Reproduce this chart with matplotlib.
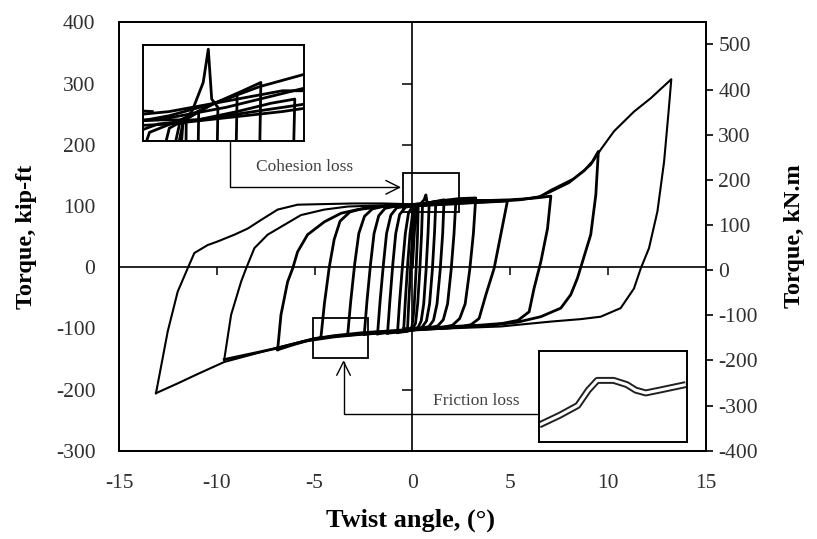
import numpy as np
import matplotlib.pyplot as plt
from matplotlib.patches import Rectangle

plt.rcParams['font.family'] = ['Liberation Serif', 'DejaVu Serif']
plt.rcParams['axes.unicode_minus'] = False

# twist angle (deg), torque (kip-ft) for each load cycle, in test order
cycle_01 = [(0.00, 0), (0.08, 45), (0.16, 85), (0.24, 100), (0.30, 101), (0.26, 50), (0.18, -10),
            (0.08, -70), (-0.02, -97), (-0.12, -102), (-0.25, -103)]
cycle_02 = [(-0.25, -103), (-0.18, -55), (-0.08, 5), (0.02, 60), (0.12, 92), (0.25, 101), (0.40, 102),
            (0.52, 103), (0.47, 55), (0.38, -5), (0.27, -60), (0.16, -92), (0.02, -101), (-0.20, -104),
            (-0.45, -105)]
cycle_03 = [(-0.45, -105), (-0.36, -55), (-0.24, 5), (-0.12, 55), (0.02, 90), (0.18, 100), (0.40, 103),
            (0.60, 110), (0.69, 118), (0.75, 106), (0.86, 104), (0.80, 55), (0.70, -5), (0.58, -60),
            (0.45, -88), (0.30, -98), (0.05, -102), (-0.30, -105), (-0.76, -107)]
cycle_04 = [(-0.76, -107), (-0.65, -55), (-0.50, 5), (-0.36, 55), (-0.20, 88), (0.00, 99), (0.40, 102),
            (0.80, 105), (1.20, 107), (1.13, 55), (1.02, -5), (0.88, -60), (0.72, -88), (0.50, -98),
            (0.20, -102), (-0.40, -105), (-1.27, -108)]
cycle_05 = [(-1.27, -108), (-1.15, -55), (-1.00, 5), (-0.85, 55), (-0.65, 86), (-0.35, 98), (0.20, 101),
            (0.80, 105), (1.30, 108), (1.62, 110), (1.55, 55), (1.42, -5), (1.26, -60), (1.08, -87),
            (0.85, -97), (0.50, -100), (-0.20, -103), (-1.00, -106), (-1.78, -109)]
cycle_06 = [(-1.78, -109), (-1.65, -55), (-1.48, 5), (-1.32, 55), (-1.10, 85), (-0.80, 97), (-0.20, 100),
            (0.50, 101), (1.20, 103), (1.80, 105), (2.22, 106), (2.13, 55), (1.98, -5), (1.80, -60),
            (1.58, -86), (1.30, -96), (0.90, -99), (0.30, -101), (-0.60, -104), (-1.50, -107),
            (-2.46, -110)]
cycle_07 = [(-2.46, -110), (-2.32, -55), (-2.14, 5), (-1.96, 55), (-1.72, 84), (-1.40, 96), (-0.80, 100),
            (0.00, 102), (0.80, 105), (1.60, 109), (2.40, 112), (3.24, 113), (3.12, 55), (2.93, -5),
            (2.70, -60), (2.42, -84), (2.05, -95), (1.60, -98), (1.00, -100), (0.20, -102),
            (-0.80, -105), (-2.00, -108), (-3.31, -111)]
cycle_08 = [(-3.31, -111), (-3.15, -55), (-2.95, 5), (-2.74, 55), (-2.45, 83), (-2.05, 95), (-1.40, 100),
            (-0.50, 101), (0.50, 101), (1.50, 103), (2.50, 105), (3.50, 106), (4.30, 107), (4.86, 108),
            (4.52, 53), (4.18, -2), (3.76, -45), (3.41, -84), (3.00, -94), (2.40, -98), (1.50, -100),
            (0.50, -101), (-0.60, -104), (-1.80, -106), (-3.00, -110), (-4.00, -113), (-4.68, -116)]
cycle_09 = [(-4.68, -116), (-4.50, -60), (-4.25, 0), (-4.00, 45), (-3.70, 75), (-3.20, 90), (-2.40, 97),
            (-1.40, 100), (-0.20, 101), (1.00, 104), (2.50, 109), (4.00, 109), (5.00, 110), (6.00, 112),
            (6.60, 114), (7.08, 116), (6.91, 63), (6.57, 9), (6.22, -35), (5.97, -73), (5.40, -87),
            (4.60, -92), (3.40, -95), (2.00, -97), (0.50, -100), (-1.00, -104), (-2.50, -107),
            (-4.00, -112), (-5.00, -117), (-6.00, -126), (-6.89, -135)]
cycle_10 = [(-6.89, -135), (-6.72, -78), (-6.38, -24), (-6.12, -2), (-5.87, 25), (-5.36, 53), (-4.50, 74),
            (-3.65, 88), (-2.80, 94), (-1.50, 99), (0.00, 100), (2.00, 103), (4.00, 107), (5.50, 110),
            (6.50, 115), (7.10, 124), (8.00, 138), (8.80, 158), (9.20, 172), (9.51, 189), (9.38, 118),
            (9.12, 53), (8.70, 9), (8.44, -18), (8.10, -45), (7.59, -67), (6.57, -81), (5.37, -90),
            (4.00, -95), (2.00, -99), (0.00, -103), (-2.00, -108), (-4.00, -114), (-5.50, -121),
            (-7.00, -133), (-8.30, -142), (-9.62, -151)]
cycle_11 = [(-9.62, -151), (-9.27, -78), (-8.76, -24), (-8.50, -2), (-8.08, 31), (-7.40, 53), (-6.55, 69),
            (-5.70, 85), (-4.50, 94), (-3.30, 99), (-1.50, 101), (0.00, 103), (2.00, 108), (4.00, 108),
            (5.50, 110), (6.50, 115), (7.08, 126), (8.27, 145), (9.12, 167), (9.63, 192), (10.31, 222),
            (11.33, 254), (12.19, 276), (13.24, 307), (13.10, 254), (12.87, 172), (12.53, 91),
            (12.10, 31), (11.68, -2), (11.33, -35), (10.65, -67), (9.63, -81), (8.61, -85), (7.08, -89),
            (4.52, -97), (1.97, -100), (0.00, -103), (-2.00, -107), (-4.00, -113), (-5.00, -116),
            (-7.06, -133), (-9.62, -155), (-11.00, -175), (-12.00, -190), (-13.11, -206)]
cycle_12 = [(-13.11, -206), (-12.51, -105), (-12.00, -40), (-11.49, -2), (-11.15, 23), (-10.47, 36),
            (-9.95, 42), (-9.10, 53), (-8.42, 63), (-7.74, 77), (-6.89, 94), (-5.87, 102), (-4.51, 103),
            (-3.00, 104), (-1.50, 104), (-0.30, 103)]

cycles = [cycle_01, cycle_02, cycle_03, cycle_04, cycle_05, cycle_06, cycle_07, cycle_08,
          cycle_09, cycle_10, cycle_11, cycle_12]

# detail of the lower branch in the friction-loss window
friction_theta = [-5.06, -4.67, -4.33, -4.13, -3.96, -3.65, -3.40, -3.23, -3.04, -2.78, -2.53, -2.28]
friction_torque = [-137, -130, -123, -112, -105, -105, -108, -112, -114, -112, -110, -108]

x_ticks = [-15, -10, -5, 0, 5, 10, 15]
y_ticks_kipft = [-300, -200, -100, 0, 100, 200, 300, 400]
y_ticks_knm = [-400, -300, -200, -100, 0, 100, 200, 300, 400, 500]
KIPFT_TO_KNM = 1.3558

cohesion_box = (-0.46, 90.5, 2.84, 62.8)
friction_box = (-5.06, -149.0, 2.81, 65.3)

fig = plt.figure(figsize=(8.17, 5.39), dpi=100)
ax = fig.add_axes([0.1457, 0.1638, 0.7181, 0.7948])

for i, cyc in enumerate(cycles):
    th, tq = np.array(cyc).T
    ax.plot(th, tq, color='black', lw=1.5 if i >= 10 else 2.0, solid_joinstyle='round')

ax.set_xlim(-15, 15)
ax.set_ylim(-300, 400)
ax.set_xticks(x_ticks)
ax.set_yticks(y_ticks_kipft)
ax.tick_params(axis='both', length=0, labelsize=15.5, labelcolor='#303030')
ax.tick_params(axis='x', pad=17)
ax.tick_params(axis='y', pad=17)
for sp in ax.spines.values():
    sp.set_linewidth(1.3)

# axes crossing at zero, with their own tick marks
ax.axhline(0, color='black', lw=1.2)
ax.axvline(0, color='black', lw=1.2)
inner_x = [t for t in x_ticks if t not in (-15, 0, 15)]
inner_y = [t for t in y_ticks_kipft if t not in (-300, 0, 400)]
ax.plot(inner_x, np.zeros(len(inner_x)), ls='none', marker=3, ms=6, mew=1.1, color='black')
ax.plot(np.zeros(len(inner_y)), inner_y, ls='none', marker=0, ms=7, mew=1.1, color='black')

ax.set_xlabel('Twist angle, (°)', fontsize=19, fontweight='bold', va='center')
ax.xaxis.set_label_coords(0.496, -0.162)
ax.set_ylabel('Torque, kip-ft', fontsize=17.5, fontweight='bold', va='center')
ax.yaxis.set_label_coords(-0.157, 0.5)

ax2 = ax.twinx()
ax2.set_ylim(-400, 700 * KIPFT_TO_KNM - 400)
ax2.set_yticks(y_ticks_knm)
ax2.tick_params(axis='y', direction='out', length=5, width=1.2, pad=4, labelsize=15.5, labelcolor='#303030')
ax2.set_ylabel('Torque, kN.m', fontsize=17.5, fontweight='bold', va='center', rotation=90)
ax2.yaxis.set_label_coords(1.152, 0.5)
for sp in ax2.spines.values():
    sp.set_linewidth(1.3)

# windows that are enlarged in the insets
for (bx, by, bw, bh) in (cohesion_box, friction_box):
    ax.add_patch(Rectangle((bx, by), bw, bh, fill=False, ec='black', lw=1.3, zorder=4))

# cohesion-loss inset
ins1 = ax.inset_axes([-13.76, 206.6, 8.21, 156.3], transform=ax.transData)
for cyc in cycles:
    th, tq = np.array(cyc).T
    ins1.plot(th, tq, color='black', lw=2.0)
ins1.set_xlim(cohesion_box[0], cohesion_box[0] + cohesion_box[2])
ins1.set_ylim(96, 119)
ins1.set_xticks([])
ins1.set_yticks([])
for sp in ins1.spines.values():
    sp.set_linewidth(1.4)

# friction-loss inset
ins2 = ax.inset_axes([6.49, -285.3, 7.57, 148.7], transform=ax.transData)
ins2.plot(friction_theta, friction_torque, color='#202020', lw=5.0, solid_capstyle='butt')
ins2.plot(friction_theta, friction_torque, color='white', lw=2.2, solid_capstyle='butt')
ins2.set_xlim(friction_box[0], friction_box[0] + friction_box[2])
ins2.set_ylim(friction_box[1], friction_box[1] + friction_box[3])
ins2.set_xticks([])
ins2.set_yticks([])
for sp in ins2.spines.values():
    sp.set_linewidth(1.4)

arrow = dict(arrowstyle='->,head_length=0.7,head_width=0.35', lw=1.0, color='black',
             shrinkA=0, shrinkB=0, mutation_scale=14)
ax.annotate('', xy=(-0.58, 130.4), xytext=(-9.32, 206.6),
            arrowprops=dict(arrow, connectionstyle='angle,angleA=90,angleB=0,rad=0'))
ax.annotate('', xy=(-3.52, -152), xytext=(6.49, -240),
            arrowprops=dict(arrow, connectionstyle='angle,angleA=0,angleB=90,rad=0'))
ax.text(-5.51, 164, 'Cohesion loss', fontsize=12.5, color='#404040', ha='center', va='center')
ax.text(3.28, -218, 'Friction loss', fontsize=12.5, color='#404040', ha='center', va='center')

fig.savefig('out.png', dpi=100)
